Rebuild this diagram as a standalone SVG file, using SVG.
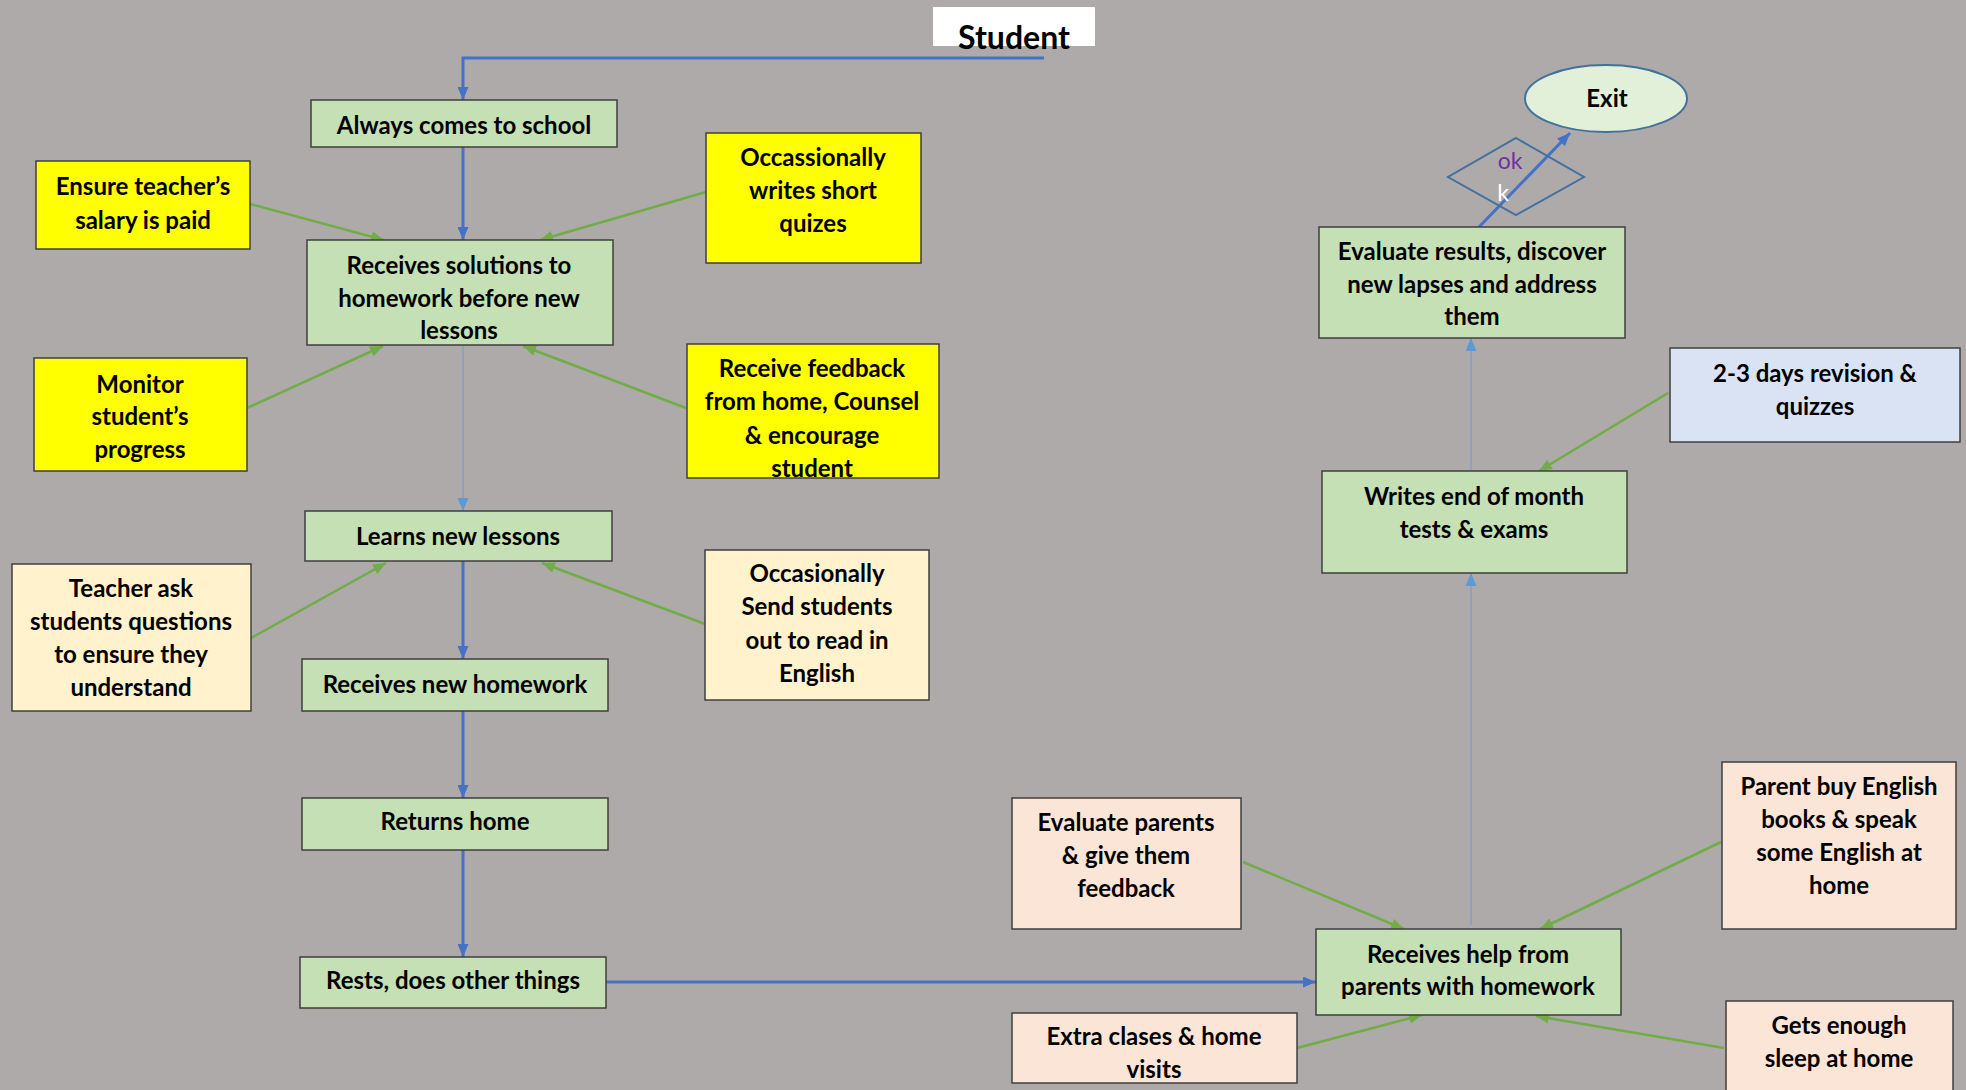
<svg xmlns="http://www.w3.org/2000/svg" width="1966" height="1090" viewBox="0 0 1966 1090">
<style>
.t{font-family:Lato,"Liberation Sans",sans-serif;font-weight:bold;font-size:24px;fill:#000;text-anchor:middle}
.bx{stroke:#3F3F3F;stroke-width:1.5}
.gr{fill:#C5E0B4}
.ye{fill:#FFFF00}
.ly{fill:#FFF2CC}
.pe{fill:#FBE5D6}
.lb{fill:#DAE3F3}
.cb{fill:none;stroke:#4472C4;stroke-width:3}
.ct{fill:none;stroke:#7A9CC6;stroke-width:1.2}
.cg{fill:none;stroke:#70AD47;stroke-width:2.5}
</style>
<defs>
<marker id="ab" markerUnits="userSpaceOnUse" markerWidth="13" markerHeight="11" refX="13" refY="5.5" orient="auto"><path d="M0,0 L13,5.5 L0,11 z" fill="#4472C4"/></marker>
<marker id="al" markerUnits="userSpaceOnUse" markerWidth="13" markerHeight="11" refX="13" refY="5.5" orient="auto"><path d="M0,0 L13,5.5 L0,11 z" fill="#5B9BD5"/></marker>
<marker id="ag" markerUnits="userSpaceOnUse" markerWidth="13" markerHeight="11" refX="13" refY="5.5" orient="auto"><path d="M0,0 L13,5.5 L0,11 z" fill="#70AD47"/></marker>
</defs>
<rect width="1966" height="1090" fill="#AEAAAA"/>

<g id="connectors">
<path class="cb" d="M1044,58 H463 V100" marker-end="url(#ab)"/>
<path class="cb" d="M463,147 V240" stroke-width="2" marker-end="url(#ab)"/>
<path class="ct" d="M463,345 V511" marker-end="url(#al)"/>
<path class="cb" d="M463,561 V659" marker-end="url(#ab)"/>
<path class="cb" d="M463,711 V798" marker-end="url(#ab)"/>
<path class="cb" d="M463,850 V957" marker-end="url(#ab)"/>
<path class="cb" d="M606,982 H1316" marker-end="url(#ab)"/>
<path class="ct" d="M1471,925 V573" marker-end="url(#al)"/>
<path class="ct" d="M1471,471 V338" marker-end="url(#al)"/>
<path class="cb" d="M1479,227 L1570,133" marker-end="url(#ab)"/>
<path class="cg" d="M250,204 L384,240" marker-end="url(#ag)"/>
<path class="cg" d="M706,192 L540,240" marker-end="url(#ag)"/>
<path class="cg" d="M247,408 L383,346" marker-end="url(#ag)"/>
<path class="cg" d="M686,408 L523,346" marker-end="url(#ag)"/>
<path class="cg" d="M251,638 L386,563" marker-end="url(#ag)"/>
<path class="cg" d="M705,624 L542,563" marker-end="url(#ag)"/>
<path class="cg" d="M1243,862 L1404,929" marker-end="url(#ag)"/>
<path class="cg" d="M1721,842 L1540,929" marker-end="url(#ag)"/>
<path class="cg" d="M1297,1048 L1422,1015" marker-end="url(#ag)"/>
<path class="cg" d="M1724,1048 L1536,1016" marker-end="url(#ag)"/>
<path class="cg" d="M1668,393 L1539,471" marker-end="url(#ag)"/>
</g>

<g id="student">
<rect x="933" y="7" width="162" height="39" fill="#FFFFFF"/>
<text class="t" x="1014" y="49" style="font-size:32px">Student</text>
</g>

<g id="always">
<rect class="bx gr" x="311" y="100" width="306" height="47"/>
<text class="t" x="464" y="133.5">Always comes to school</text>
</g>

<g id="receives-solutions">
<rect class="bx gr" x="307" y="240" width="306" height="105"/>
<text class="t" x="459" y="273.5">Receives solutions to</text>
<text class="t" x="459" y="306.5">homework before new</text>
<text class="t" x="459" y="338.5">lessons</text>
</g>

<g id="ensure">
<rect class="bx ye" x="36" y="161" width="214" height="88"/>
<text class="t" x="143" y="194.5">Ensure teacher’s</text>
<text class="t" x="143" y="228.5">salary is paid</text>
</g>

<g id="occassionally-quizes">
<rect class="bx ye" x="706" y="133" width="215" height="130"/>
<text class="t" x="813" y="165.5">Occassionally</text>
<text class="t" x="813" y="198.5">writes short</text>
<text class="t" x="813" y="231.5">quizes</text>
</g>

<g id="monitor">
<rect class="bx ye" x="34" y="358" width="213" height="113"/>
<text class="t" x="140" y="392.5">Monitor</text>
<text class="t" x="140" y="424.5">student’s</text>
<text class="t" x="140" y="457.5">progress</text>
</g>

<g id="feedback">
<rect class="bx ye" x="687" y="344" width="252" height="134"/>
<text class="t" x="812" y="376.5">Receive feedback</text>
<text class="t" x="812" y="409.5">from home, Counsel</text>
<text class="t" x="812" y="443.5">&amp; encourage</text>
<text class="t" x="812" y="476.5">student</text>
</g>

<g id="learns">
<rect class="bx gr" x="305" y="511" width="307" height="50"/>
<text class="t" x="458" y="544.5">Learns new lessons</text>
</g>

<g id="teacher-ask">
<rect class="bx ly" x="12" y="564" width="239" height="147"/>
<text class="t" x="131" y="596.5">Teacher ask</text>
<text class="t" x="131" y="629.5">students questions</text>
<text class="t" x="131" y="662.5">to ensure they</text>
<text class="t" x="131" y="695.5">understand</text>
</g>

<g id="send-students">
<rect class="bx ly" x="705" y="550" width="224" height="150"/>
<text class="t" x="817" y="581.5">Occasionally</text>
<text class="t" x="817" y="614.5">Send students</text>
<text class="t" x="817" y="648.5">out to read in</text>
<text class="t" x="817" y="681.5">English</text>
</g>

<g id="new-homework">
<rect class="bx gr" x="302" y="659" width="306" height="52"/>
<text class="t" x="455" y="692.5">Receives new homework</text>
</g>

<g id="returns-home">
<rect class="bx gr" x="302" y="798" width="306" height="52"/>
<text class="t" x="455" y="829.5">Returns home</text>
</g>

<g id="rests">
<rect class="bx gr" x="300" y="957" width="306" height="51"/>
<text class="t" x="453" y="988.5">Rests, does other things</text>
</g>

<g id="receives-help">
<rect class="bx gr" x="1316" y="929" width="305" height="86"/>
<text class="t" x="1468" y="962.5">Receives help from</text>
<text class="t" x="1468" y="994.5">parents with homework</text>
</g>

<g id="evaluate-parents">
<rect class="bx pe" x="1012" y="798" width="229" height="131"/>
<text class="t" x="1126" y="830.5">Evaluate parents</text>
<text class="t" x="1126" y="863.5">&amp; give them</text>
<text class="t" x="1126" y="896.5">feedback</text>
</g>

<g id="parent-buy">
<rect class="bx pe" x="1722" y="762" width="234" height="167"/>
<text class="t" x="1839" y="794.5">Parent buy English</text>
<text class="t" x="1839" y="827.5">books &amp; speak</text>
<text class="t" x="1839" y="860.5">some English at</text>
<text class="t" x="1839" y="893.5">home</text>
</g>

<g id="extra-clases">
<rect class="bx pe" x="1012" y="1013" width="285" height="70"/>
<text class="t" x="1154" y="1044.5">Extra clases &amp; home</text>
<text class="t" x="1154" y="1077.5">visits</text>
</g>

<g id="gets-sleep">
<rect class="bx pe" x="1726" y="1001" width="227" height="100"/>
<text class="t" x="1839" y="1033.5">Gets enough</text>
<text class="t" x="1839" y="1066.5">sleep at home</text>
</g>

<g id="writes-tests">
<rect class="bx gr" x="1322" y="471" width="305" height="102"/>
<text class="t" x="1474" y="504.5">Writes end of month</text>
<text class="t" x="1474" y="537.5">tests &amp; exams</text>
</g>

<g id="revision">
<rect class="bx lb" x="1670" y="348" width="290" height="94"/>
<text class="t" x="1815" y="381.5">2-3 days revision &amp;</text>
<text class="t" x="1815" y="414.5">quizzes</text>
</g>

<g id="evaluate-results">
<rect class="bx gr" x="1319" y="227" width="306" height="111"/>
<text class="t" x="1472" y="259.5">Evaluate results, discover</text>
<text class="t" x="1472" y="292.5">new lapses and address</text>
<text class="t" x="1472" y="324.5">them</text>
</g>

<g id="decision">
<polygon points="1516,138 1584,177 1516,215 1448,177" fill="none" stroke="#41719C" stroke-width="2"/>
<text x="1510" y="169" style="font-family:Lato,'Liberation Sans',sans-serif;font-size:23px;fill:#7030A0;text-anchor:middle">ok</text>
<text x="1503" y="201" style="font-family:Lato,'Liberation Sans',sans-serif;font-size:23px;fill:#FFFFFF;text-anchor:middle">k</text>
</g>

<g id="exit">
<ellipse cx="1606" cy="98.5" rx="81" ry="33.5" fill="#E2F0D9" stroke="#41719C" stroke-width="2"/>
<text class="t" x="1607" y="107">Exit</text>
</g>
</svg>
